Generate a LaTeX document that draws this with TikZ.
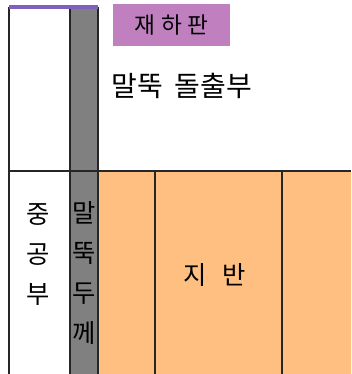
\documentclass[tikz,border=0pt]{standalone}
\usepackage{fontspec}
\newfontfamily\kr{Noto Sans CJK KR}
\definecolor{ground}{HTML}{FFBF80}
\definecolor{pile}{HTML}{808080}
\definecolor{plate}{HTML}{C080C0}
\definecolor{plateline}{HTML}{7F5FBF}
\tikzset{
  edge/.style={draw=black!85,line width=0.9pt},
  lbl/.style={font=\kr\fontsize{17}{20}\selectfont,inner sep=0pt},
  vlbl/.style={font=\kr\fontsize{19}{30}\selectfont,inner sep=0pt,align=center},
}
\begin{document}
\begin{tikzpicture}[x=0.75pt,y=-0.75pt]
\useasboundingbox (0,0) rectangle (351,374);
% ground
\fill[ground] (98,171) rectangle (351,374);
% pile column
\fill[pile] (70,7) rectangle (98,374);
% lines
\draw[edge] (9,7) -- (9,374);
\draw[edge] (70,7) -- (70,374);
\draw[edge] (98,7) -- (98,374);
\draw[edge] (9,171) -- (351,171);
\draw[edge] (155,171) -- (155,374);
\draw[edge] (282,171) -- (282,374);
% top plate line
\draw[plateline,line width=3pt] (9,7) -- (98,7);
% label box
\node[fill=plate,minimum width=117*0.75pt,minimum height=42*0.75pt,inner sep=0pt] (plate) at (171.5,25) {};
\node[lbl] (platetxt) at (plate.center) {재\hspace{4pt}하\hspace{4pt}판};
\node[lbl,font=\kr\fontsize{21}{25}\selectfont,anchor=west] (protr) at (111,86) {말뚝\hspace{9pt}돌출부};
\node[vlbl] (hollow) at (38,255) {중\\공\\부};
\node[vlbl] (thick) at (84,273) {말\\뚝\\두\\께};
\node[vlbl] (soil) at (215,275) {지\hspace{12pt}반};
\end{tikzpicture}
\end{document}
